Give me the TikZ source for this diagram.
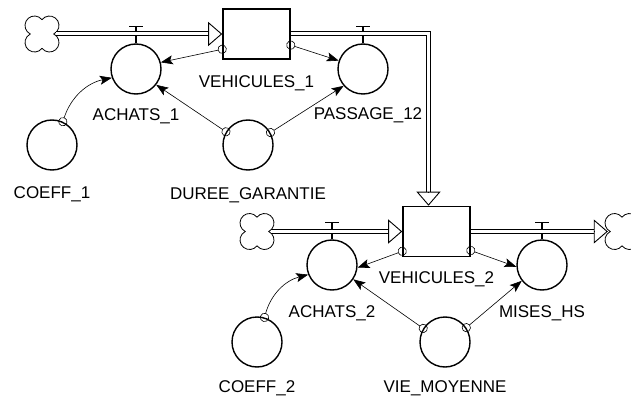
\documentclass[tikz,border=0pt]{standalone}
\usepackage{fontspec}
\setmainfont{Liberation Sans}
\usetikzlibrary{positioning,arrows.meta}

% four-lobed source/sink outline round a node
\newcommand\cloudshape[1]{%
  \draw[cloudline] ([yshift=14.33pt]#1.center)
    arc[start angle=142.1, end angle=-63.5, radius=9.5pt]
    arc[start angle=63.5, end angle=-142.1, radius=9.5pt]
    arc[start angle=-37.9, end angle=-243.5, radius=9.5pt]
    arc[start angle=243.5, end angle=37.9, radius=9.5pt] -- cycle;}

\begin{document}
\begin{tikzpicture}[x=1pt, y=-1pt,
    font=\fontsize{17}{17}\selectfont,
    stock/.style={draw, line width=1.6pt, minimum width=67pt, minimum height=50pt, inner sep=0pt},
    aux/.style={draw, circle, line width=1.4pt, minimum size=50pt, inner sep=0pt},
    source/.style={minimum width=28pt, minimum height=29pt, inner sep=0pt},
    cloudline/.style={line width=0.8pt},
    lbl/.style={inner sep=0pt, text height=12pt, text depth=0pt},
    pipe/.style={draw, double distance=3pt, line width=1pt, shorten >=14pt},
    pipetip/.style={-{Triangle[open, length=14pt, width=24pt]}, line width=0.9pt},
    valve/.style={line width=1.2pt},
    link/.style={{Circle[open, length=9pt, width=9pt]}-{Stealth[length=12pt, width=9pt, inset=2.5pt]},
                 line width=0.6pt, shorten <=-4.5pt},
  ]
  \useasboundingbox (0,0) rectangle (631,398);
  % first stage: stock, flows and parameters
  \node[stock] (stock1) at (256.5,34) {};
  \node[source] (cloud1) at (42,34) {};
  \node[aux] (achats1) at (136,69) {};
  \node[aux] (passage) at (363,69) {};
  \node[aux] (coeff1) at (52,145) {};
  \node[aux] (duree) at (248,145) {};
  \node[lbl, below=16pt of stock1] (stock1lbl) {VEHICULES\_1};
  \node[lbl, below=14pt of achats1] (achats1lbl) {ACHATS\_1};
  \node[lbl, below=13pt of passage, xshift=5pt] (passagelbl) {PASSAGE\_12};
  \node[lbl, below=16pt of coeff1] (coeff1lbl) {COEFF\_1};
  \node[lbl, below=17pt of duree] (dureelbl) {DUREE\_GARANTIE};
  % second stage
  \node[stock] (stock2) at (436.5,231.5) {};
  \node[source] (cloud2) at (257,231.5) {};
  \node[source] (cloud3) at (622,231.5) {};
  \node[aux] (achats2) at (332,265) {};
  \node[aux] (mises) at (542,265) {};
  \node[aux] (coeff2) at (257,342) {};
  \node[aux] (vie) at (445,342) {};
  \node[lbl, below=14pt of stock2] (stock2lbl) {VEHICULES\_2};
  \node[lbl, below=15pt of achats2] (achats2lbl) {ACHATS\_2};
  \node[lbl, below=15pt of mises] (miseslbl) {MISES\_HS};
  \node[lbl, below=13pt of coeff2] (coeff2lbl) {COEFF\_2};
  \node[lbl, below=13pt of vie] (vielbl) {VIE\_MOYENNE};
  \coordinate (drop) at ([xshift=-8pt]stock2.north);
  \cloudshape{cloud1}
  \cloudshape{cloud2}
  \cloudshape{cloud3}
  % valves
  \foreach \flow in {achats1, passage, achats2, mises}
    \draw[valve] (\flow.north) -- ++(0,-17) ++(-7,0) -- ++(14,0);
  % pipes
  \draw[pipe] (cloud1.east) -- (stock1.west);
  \draw[pipetip] ([xshift=-14pt]stock1.west) -- (stock1.west);
  \draw[pipe] (stock1.east) -| (drop);
  \draw[pipetip] ([yshift=14pt]drop) -- (drop);
  \draw[pipe] (cloud2.east) -- (stock2.west);
  \draw[pipetip] ([xshift=-14pt]stock2.west) -- (stock2.west);
  \draw[pipe] (stock2.east) -- (cloud3.west);
  \draw[pipetip] ([xshift=-14pt]cloud3.west) -- (cloud3.west);
  % information links
  \draw[link] (stock1.204) -- (achats1.15);
  \draw[link] (stock1.342) -- (passage.161);
  \draw[link] (duree.149) -- (achats1.-38);
  \draw[link] (duree.29) -- (passage.221);
  \draw[link] (coeff1.65) to[bend left=30] (achats1.200);
  \draw[link] (stock2.210) -- (achats2.-6);
  \draw[link] (stock2.331) -- (mises.184);
  \draw[link] (vie.148) -- (achats2.-34);
  \draw[link] (vie.34) -- (mises.218);
  \draw[link] (coeff2.73) to[bend left=30] (achats2.202);
\end{tikzpicture}
\end{document}
